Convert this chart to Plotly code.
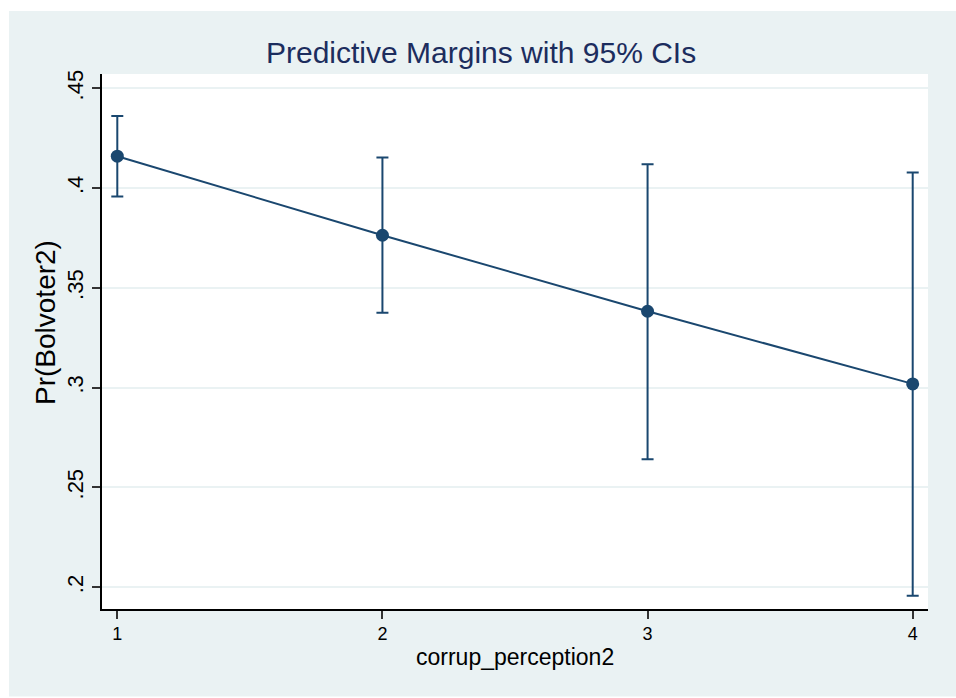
import plotly.graph_objects as go

# Data
categories = [1, 2, 3, 4]
margins = [0.4160, 0.3764, 0.3383, 0.3019]
ci_upper = [0.4361, 0.4154, 0.4120, 0.4078]
ci_lower = [0.3958, 0.3375, 0.2642, 0.1958]
y_ticks = [0.2, 0.25, 0.3, 0.35, 0.4, 0.45]
y_tick_labels = [".2", ".25", ".3", ".35", ".4", ".45"]
x_ticks = [1, 2, 3, 4]
x_tick_labels = ["1", "2", "3", "4"]

BG = "#EAF2F3"
NAVY = "#1A476F"
TITLE_C = "#1C2D5E"
FONT = "Liberation Sans, Arial, sans-serif"

W, H = 956, 698
L, R, T, B = 102, 28, 74, 89
PW = W - L - R
PH = H - T - B


def px_x(px):
    return (px - L) / PW


def px_y(py):
    return (H - B - py) / PH


err_plus = [u - m for u, m in zip(ci_upper, margins)]
err_minus = [m - l for m, l in zip(margins, ci_lower)]

fig = go.Figure()
fig.add_trace(go.Scatter(
    x=categories, y=margins, mode="lines+markers",
    line=dict(color=NAVY, width=2),
    marker=dict(color=NAVY, size=13),
    error_y=dict(type="data", symmetric=False, array=err_plus,
                 arrayminus=err_minus, color=NAVY, thickness=2, width=6),
    showlegend=False,
))

fig.update_layout(
    width=W, height=H,
    margin=dict(l=L, r=R, t=T, b=B, pad=0),
    paper_bgcolor=BG, plot_bgcolor="white",
    font=dict(family=FONT, color="black"),
    xaxis=dict(
        range=[0.9423, 4.0577], tickvals=x_ticks, ticktext=x_tick_labels,
        showgrid=False, zeroline=False,
        showline=True, linecolor="black", linewidth=1.5,
        ticks="outside", ticklen=8, tickwidth=1.5, tickcolor="#333",
        tickfont=dict(size=18, color="black"),
    ),
    yaxis=dict(
        range=[0.1891, 0.4572], tickvals=y_ticks, ticktext=y_tick_labels,
        showgrid=True, gridcolor=BG, gridwidth=2, zeroline=False,
        showline=True, linecolor="black", linewidth=1.5,
        ticks="outside", ticklen=8, tickwidth=1.5, tickcolor="#333",
        tickangle=-90, tickfont=dict(size=22, color="black"),
    ),
    shapes=[
        dict(type="rect", xref="paper", yref="paper", x0=-0.3, x1=1.2,
             y0=px_y(11), y1=px_y(-5), fillcolor="white", line=dict(width=0)),
        dict(type="rect", xref="paper", yref="paper", x0=px_x(-5), x1=px_x(9),
             y0=px_y(705), y1=px_y(-5), fillcolor="white", line=dict(width=0)),
        dict(type="rect", xref="paper", yref="paper", x0=-0.3, x1=1.2,
             y0=px_y(705), y1=px_y(696.5), fillcolor="white", line=dict(width=0)),
    ],
    annotations=[
        dict(text="Predictive Margins with 95% CIs", xref="paper", yref="paper",
             x=px_x(480.5), y=px_y(53), xanchor="center", yanchor="middle",
             showarrow=False, font=dict(size=30, color=TITLE_C, family=FONT)),
        dict(text="corrup_perception2", xref="paper", yref="paper",
             x=px_x(515), y=px_y(657), xanchor="center", yanchor="middle",
             showarrow=False, font=dict(size=23, color="black", family=FONT)),
        dict(text="Pr(Bolvoter2)", xref="paper", yref="paper",
             x=px_x(45), y=px_y(323), xanchor="center", yanchor="middle",
             textangle=-90, showarrow=False,
             font=dict(size=28, color="black", family=FONT)),
    ],
)

fig.write_html(
    "out.html",
    config={"displayModeBar": False},
    post_script="document.body.style.margin='0';document.body.style.padding='0';",
)
